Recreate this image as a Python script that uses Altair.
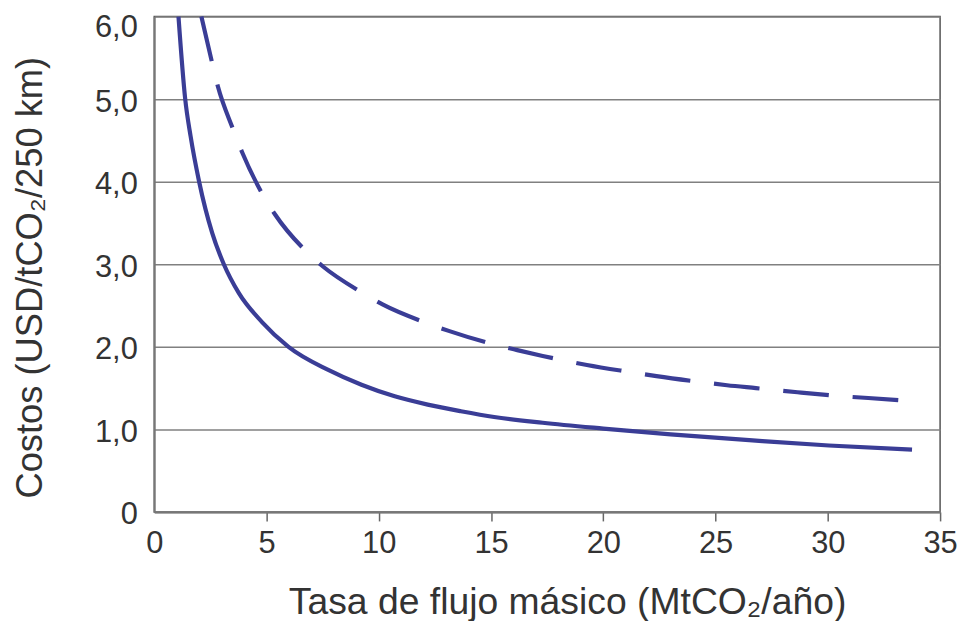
import altair as alt
import pandas as pd

# Solid curve
solid_x = [1.08, 1.38, 1.62, 2.0, 2.58, 3.1, 3.77, 4.8, 5.98, 7.75, 9.23, 10.71, 12.18,
           13.66, 15.14, 17.3, 20.0, 23.0, 26.5, 30.05, 33.75]
solid_y = [6.0, 5.0, 4.55, 4.0, 3.38, 3.0, 2.65, 2.3, 2.0, 1.72, 1.54, 1.40, 1.30,
           1.22, 1.15, 1.08, 1.01, 0.94, 0.87, 0.805, 0.755]

# Dashed curve
dash_x = [2.10, 2.56, 2.83, 3.49, 3.91, 4.80, 5.39, 6.68, 7.53, 9.23, 10.19, 12.11, 13.15,
          15.11, 16.17, 17.3, 18.17, 19.27, 21.31, 22.37, 24.44, 25.51, 26.8, 28.65,
          30.72, 31.8, 33.87]
dash_y = [6.0, 5.46, 5.16, 4.65, 4.36, 3.86, 3.60, 3.18, 2.97, 2.66, 2.51, 2.29, 2.19,
          2.03, 1.96, 1.89, 1.84, 1.78, 1.69, 1.645, 1.57, 1.535, 1.50, 1.45,
          1.40, 1.38, 1.34]

x_ticks = [0, 5, 10, 15, 20, 25, 30, 35]
y_ticks = [0, 1, 2, 3, 4, 5, 6]

x_title = "Tasa de flujo másico (MtCO₂/año)"
y_title = "Costos (USD/tCO₂/250 km)"

LINE = "#3a3d96"
FONT = "Liberation Sans"
TXT = "#333333"

solid_df = pd.DataFrame({"x": solid_x, "y": solid_y})
dash_df = pd.DataFrame({"x": dash_x, "y": dash_y})

x_enc = alt.X(
    "x:Q",
    scale=alt.Scale(domain=[0, 35], nice=False, zero=False),
    axis=alt.Axis(
        values=x_ticks, title=x_title, grid=False,
        tickSize=9, tickColor="#666666", tickWidth=1.5,
        tickOpacity={"condition": {"test": "datum.value == 0", "value": 0}, "value": 1},
        labelFont=FONT, labelFontSize=31, labelColor=TXT, labelPadding=8,
        labelFlush=False,
        domainColor="#777777", domainWidth=2,
        titleFont=FONT, titleFontSize=37.5, titleFontWeight="normal", titleColor=TXT,
        titleX=415, titleY=102, titleBaseline="alphabetic", titleAlign="center",
    ),
)
y_enc = alt.Y(
    "y:Q",
    scale=alt.Scale(domain=[0, 6], nice=False, zero=False),
    axis=alt.Axis(
        values=y_ticks, title=y_title, grid=True, gridColor="#808080", gridWidth=1.5,
        ticks=False, labelFont=FONT, labelFontSize=31, labelColor=TXT, labelPadding=17,
        labelFlush=False,
        labelOffset={"condition": {"test": "datum.value == 6", "value": 11}, "value": 3},
        labelExpr="datum.value == 0 ? '0' : replace(format(datum.value, '.1f'), '.', ',')",
        domainColor="#777777", domainWidth=2,
        titleFont=FONT, titleFontSize=36.5, titleFontWeight="normal", titleColor=TXT,
        titleAngle=270, titleX=-113, titleY=262, titleBaseline="alphabetic",
        titleAlign="center",
    ),
)

solid = alt.Chart(solid_df).mark_line(
    color=LINE, strokeWidth=4.2, interpolate="monotone"
).encode(x=x_enc, y=y_enc, order="x:Q")

dashed = alt.Chart(dash_df).mark_line(
    color=LINE, strokeWidth=4.2, interpolate="monotone", strokeDash=[46, 24]
).encode(x=x_enc, y=y_enc, order="x:Q")

chart = alt.layer(solid, dashed).properties(
    width=790,
    height=498,
    autosize=alt.AutoSizeParams(type="none"),
    padding={"left": 147, "top": 7, "right": 18, "bottom": 108},
).configure_view(
    stroke="#555555", strokeWidth=1.5
)

chart.save("out.html", embed_options={"renderer": "svg", "actions": False})
